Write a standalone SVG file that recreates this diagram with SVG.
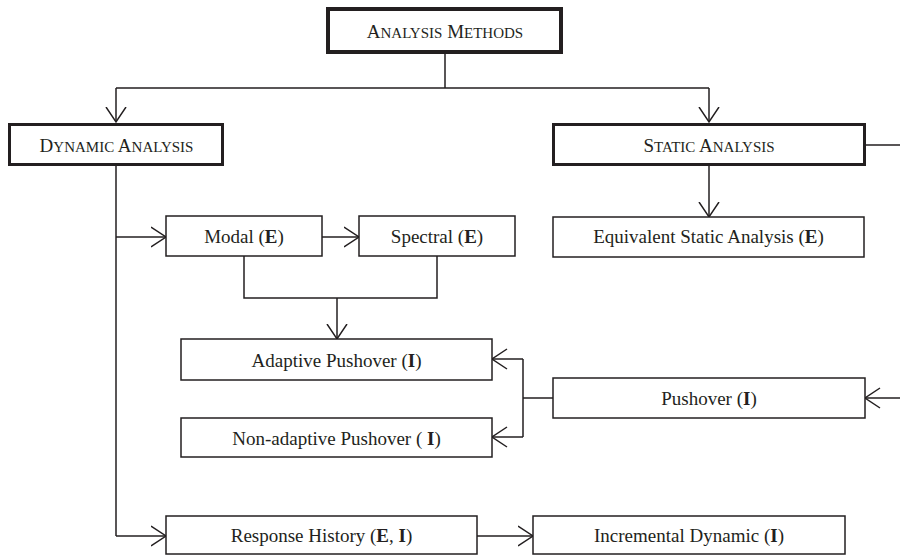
<svg xmlns="http://www.w3.org/2000/svg" width="900" height="556" viewBox="0 0 900 556">
<defs>
<style>
.t{font-family:"Liberation Serif","Times New Roman",serif;font-size:19px;fill:#231f20;text-anchor:middle}
.sc{font-size:15px}
.b{font-weight:bold}
.box{fill:#fff;stroke:#231f20;stroke-width:1.5}
.thick{fill:#fff;stroke:#231f20;stroke-width:3}
.thicker{fill:#fff;stroke:#231f20;stroke-width:4}
.c{fill:none;stroke:#231f20;stroke-width:1.5}
.a{marker-end:url(#arr)}
</style>
<marker id="arr" viewBox="0 0 17 22" markerWidth="17" markerHeight="22" refX="15.5" refY="11" orient="auto" markerUnits="userSpaceOnUse">
<path d="M0.5,1 L15.5,11 L0.5,21" fill="none" stroke="#231f20" stroke-width="1.5"/>
</marker>
</defs>
<rect width="900" height="556" fill="#fff"/>
<g id="connectors">
<path class="c" d="M445,54 V88 M116,88 H709 M866,145 H900 M116,166 V536 M244,256 V298 H437 V256 M553,398 H523 M523,359 V437"/>
<path class="c a" d="M116,88 V122"/>
<path class="c a" d="M709,88 V122"/>
<path class="c a" d="M709,166 V217"/>
<path class="c a" d="M116,237 H166"/>
<path class="c a" d="M322,237 H359"/>
<path class="c a" d="M337,298 V339"/>
<path class="c a" d="M523,359 H492"/>
<path class="c a" d="M523,437 H492"/>
<path class="c a" d="M900,398 H865"/>
<path class="c a" d="M116,536 H166"/>
<path class="c a" d="M477,536 H533"/>
</g>
<g id="analysis-methods">
<rect class="thicker" x="328" y="9" width="233" height="43"/>
<text class="t" x="445" y="38">A<tspan class="sc">NALYSIS</tspan> M<tspan class="sc">ETHODS</tspan></text>
</g>
<g id="dynamic-analysis">
<rect class="thick" x="9.5" y="124.5" width="213" height="40"/>
<text class="t" x="116.5" y="152">D<tspan class="sc">YNAMIC</tspan> A<tspan class="sc">NALYSIS</tspan></text>
</g>
<g id="static-analysis">
<rect class="thick" x="553.5" y="124.5" width="311" height="40"/>
<text class="t" x="709" y="152">S<tspan class="sc">TATIC</tspan> A<tspan class="sc">NALYSIS</tspan></text>
</g>
<g id="modal">
<rect class="box" x="166" y="216" width="156" height="40"/>
<text class="t" x="244" y="243">Modal (<tspan class="b">E</tspan>)</text>
</g>
<g id="spectral">
<rect class="box" x="359" y="216" width="156" height="40"/>
<text class="t" x="437" y="243">Spectral (<tspan class="b">E</tspan>)</text>
</g>
<g id="equivalent-static">
<rect class="box" x="553" y="217" width="311" height="40"/>
<text class="t" x="708.5" y="243">Equivalent Static Analysis (<tspan class="b">E</tspan>)</text>
</g>
<g id="adaptive-pushover">
<rect class="box" x="181" y="339" width="311" height="41"/>
<text class="t" x="336.5" y="367">Adaptive Pushover (<tspan class="b">I</tspan>)</text>
</g>
<g id="non-adaptive-pushover">
<rect class="box" x="181" y="418" width="311" height="39"/>
<text class="t" x="336.5" y="445">Non-adaptive Pushover ( <tspan class="b">I</tspan>)</text>
</g>
<g id="pushover">
<rect class="box" x="553" y="378" width="312" height="40"/>
<text class="t" x="709" y="405">Pushover (<tspan class="b">I</tspan>)</text>
</g>
<g id="response-history">
<rect class="box" x="166" y="516" width="311" height="38"/>
<text class="t" x="321.5" y="542">Response History (<tspan class="b">E</tspan>, <tspan class="b">I</tspan>)</text>
</g>
<g id="incremental-dynamic">
<rect class="box" x="533" y="516" width="312" height="38"/>
<text class="t" x="689" y="542">Incremental Dynamic (<tspan class="b">I</tspan>)</text>
</g>
</svg>
